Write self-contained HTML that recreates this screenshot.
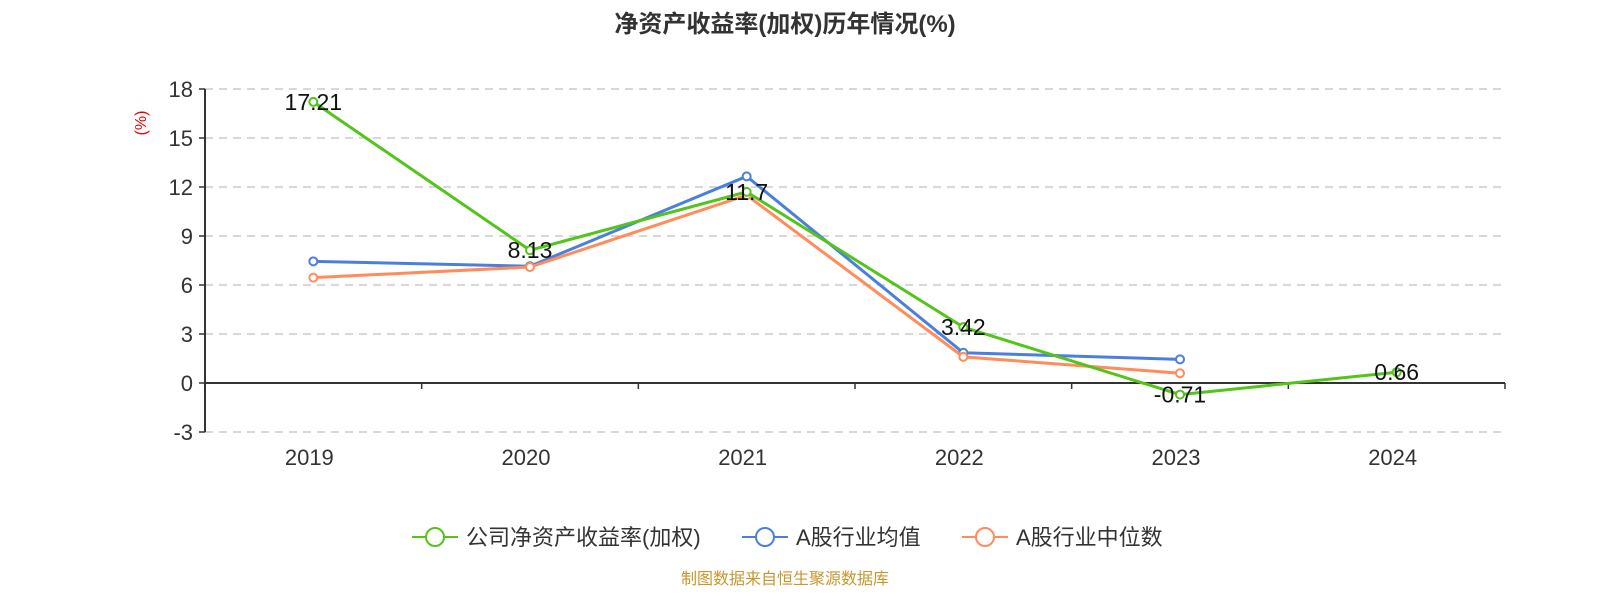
<!DOCTYPE html>
<html><head><meta charset="utf-8"><style>
html,body{margin:0;padding:0;background:#fff;font-family:"Liberation Sans","Noto Sans CJK SC",sans-serif;}
svg{display:block;}
</style></head><body>
<svg width="1600" height="600" xmlns="http://www.w3.org/2000/svg" font-family="Liberation Sans, Noto Sans CJK SC, sans-serif">
<text x="785" y="32" text-anchor="middle" font-size="24" font-weight="bold" fill="#333">净资产收益率(加权)历年情况(%)</text>
<text transform="translate(146,123) rotate(-90)" text-anchor="middle" font-size="16" fill="#e00">(%)</text>
<g id="grid"></g><g id="series"></g>
<g>
<g><line x1="412" y1="537" x2="458" y2="537" stroke="#52c41a" stroke-width="2"/><circle cx="435" cy="537" r="9" fill="#fff" stroke="#52c41a" stroke-width="2"/><text x="466" y="545" font-size="22" fill="#333">公司净资产收益率(加权)</text></g>
<g><line x1="742" y1="537" x2="788" y2="537" stroke="#4a7fe0" stroke-width="2"/><circle cx="765" cy="537" r="9" fill="#fff" stroke="#4a7fe0" stroke-width="2"/><text x="796" y="545" font-size="22" fill="#333">A股行业均值</text></g>
<g><line x1="962" y1="537" x2="1008" y2="537" stroke="#ff8c5a" stroke-width="2"/><circle cx="985" cy="537" r="9" fill="#fff" stroke="#ff8c5a" stroke-width="2"/><text x="1016" y="545" font-size="22" fill="#333">A股行业中位数</text></g>
</g>
<text x="785" y="584" text-anchor="middle" font-size="16" fill="#c8962c">制图数据来自恒生聚源数据库</text>
</svg>
<script>
const categories=["2019","2020","2021","2022","2023","2024"];
const companyValues=[17.21,8.13,11.7,3.42,-0.71,0.66];
const meanValues=[7.45,7.15,12.65,1.85,1.45,null];
const medianValues=[6.45,7.1,11.5,1.6,0.6,null];
const yTicks=[-3,0,3,6,9,12,15,18];
const NS="http://www.w3.org/2000/svg";
const x0=205,x1=1505,yTop=89,yBot=432,yMin=-3,yMax=18;
const band=(x1-x0)/categories.length;
const xs=i=>x0+band*(i+0.5);
const ys=v=>yBot-(v-yMin)/(yMax-yMin)*(yBot-yTop);
function mk(tag,attrs,parent,txt){const e=document.createElementNS(NS,tag);for(const k in attrs)e.setAttribute(k,attrs[k]);if(txt!=null)e.textContent=txt;parent.appendChild(e);return e;}
const g=document.getElementById('grid'),s=document.getElementById('series');
yTicks.forEach(t=>{const y=ys(t);
 if(t!==0){const l=mk('line',{x1:x0,x2:x1,y1:y,y2:y,stroke:'#ccc','stroke-dasharray':'8,6','stroke-width':1.5},g);
 
 }
 mk('line',{x1:x0-6,x2:x0,y1:y,y2:y,stroke:'#333','stroke-width':1.5},g);
 const tx=mk('text',{x:x0-12,y:y+8,'text-anchor':'end','font-size':22,fill:'#333'},g,String(t));
 
 
});
const ya=mk('line',{x1:x0,x2:x0,y1:yTop,y2:yBot,stroke:'#333','stroke-width':2},g);


const xa=mk('line',{x1:x0,x2:x1,y1:ys(0),y2:ys(0),stroke:'#333','stroke-width':2},g);


for(let i=0;i<=categories.length;i++)mk('line',{x1:x0+band*i,x2:x0+band*i,y1:ys(0),y2:ys(0)+6,stroke:'#333','stroke-width':1.5},g);
categories.forEach((c,i)=>{const t=mk('text',{x:xs(i)-4,y:465,'text-anchor':'middle','font-size':22,fill:'#333'},g,c);
 
 });
function series(vals,color,name,labels){
 const pts=[];vals.forEach((v,i)=>{if(v!=null)pts.push([xs(i),ys(v),v]);});
 const p=mk('polyline',{points:pts.map(p=>p[0]+','+p[1]).join(' '),fill:'none',stroke:color,'stroke-width':3},s);
 
 
 pts.forEach(q=>{const c=mk('circle',{cx:q[0],cy:q[1],r:4,fill:'#fff',stroke:color,'stroke-width':2},s);
  
  
  if(labels){const t=mk('text',{x:q[0],y:q[1]+8,'text-anchor':'middle','font-size':23,fill:'#111'},s,String(q[2]));
   
   }
 });
}
series(meanValues,'#4a7fe0','industry-mean',false);
series(medianValues,'#ff8c5a','industry-median',false);
series(companyValues,'#52c41a','company',true);
</script>
</body></html>
